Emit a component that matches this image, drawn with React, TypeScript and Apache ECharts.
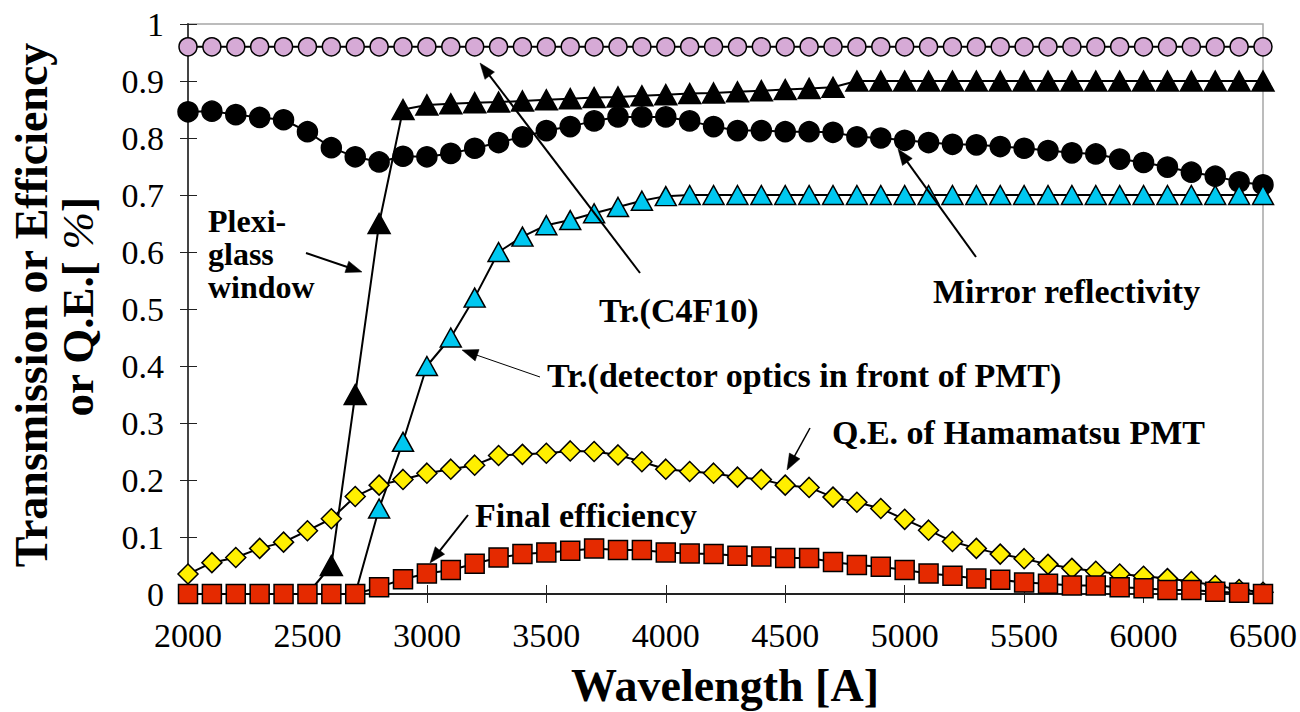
import React, { useEffect, useRef } from 'react';
import * as echarts from 'echarts';

const wavelengths = [
  2000, 2100, 2200, 2300, 2400, 2500, 2600, 2700, 2800, 2900,
  3000, 3100, 3200, 3300, 3400, 3500, 3600, 3700, 3800, 3900,
  4000, 4100, 4200, 4300, 4400, 4500, 4600, 4700, 4800, 4900,
  5000, 5100, 5200, 5300, 5400, 5500, 5600, 5700, 5800, 5900,
  6000, 6100, 6200, 6300, 6400, 6500,
];

const trC4F10 = [
  0.96, 0.96, 0.96, 0.96, 0.96, 0.96, 0.96, 0.96, 0.96, 0.96,
  0.96, 0.96, 0.96, 0.96, 0.96, 0.96, 0.96, 0.96, 0.96, 0.96,
  0.96, 0.96, 0.96, 0.96, 0.96, 0.96, 0.96, 0.96, 0.96, 0.96,
  0.96, 0.96, 0.96, 0.96, 0.96, 0.96, 0.96, 0.96, 0.96, 0.96,
  0.96, 0.96, 0.96, 0.96, 0.96, 0.96,
];

const plexiglass = [
  null, null, null, null, null, 0, 0.05, 0.35, 0.65, 0.85,
  0.858, 0.86, 0.862, 0.863, 0.865, 0.867, 0.869, 0.871, 0.872, 0.874,
  0.876, 0.878, 0.879, 0.881, 0.883, 0.885, 0.887, 0.889, 0.9, 0.9,
  0.9, 0.9, 0.9, 0.9, 0.9, 0.9, 0.9, 0.9, 0.9, 0.9,
  0.9, 0.9, 0.9, 0.9, 0.9, 0.9,
];

const mirror = [
  0.846, 0.847, 0.841, 0.836, 0.832, 0.811, 0.783, 0.767, 0.758, 0.768,
  0.767, 0.773, 0.782, 0.792, 0.802, 0.813, 0.82, 0.83, 0.837, 0.837,
  0.837, 0.83, 0.82, 0.813, 0.813, 0.811, 0.811, 0.81, 0.802, 0.8,
  0.796, 0.792, 0.789, 0.788, 0.785, 0.782, 0.778, 0.774, 0.772, 0.763,
  0.757, 0.749, 0.74, 0.733, 0.723, 0.718,
];

const detectorOptics = [
  null, null, null, null, null, null, null, 0, 0.15, 0.267,
  0.4, 0.45, 0.52, 0.6, 0.627, 0.647, 0.656, 0.668, 0.679, 0.69,
  0.698, 0.7, 0.7, 0.7, 0.7, 0.7, 0.7, 0.7, 0.7, 0.7,
  0.7, 0.7, 0.7, 0.7, 0.7, 0.7, 0.7, 0.7, 0.7, 0.7,
  0.7, 0.7, 0.7, 0.7, 0.7, 0.7,
];

const qeHamamatsu = [
  0.035, 0.055, 0.064, 0.08, 0.091, 0.111, 0.132, 0.171, 0.191, 0.201,
  0.212, 0.219, 0.226, 0.243, 0.245, 0.247, 0.251, 0.25, 0.244, 0.232,
  0.219, 0.215, 0.212, 0.205, 0.201, 0.191, 0.187, 0.17, 0.161, 0.15,
  0.131, 0.112, 0.092, 0.08, 0.07, 0.062, 0.052, 0.045, 0.04, 0.035,
  0.031, 0.027, 0.022, 0.015, 0.008, 0.003,
];

const finalEfficiency = [
  0, 0, 0, 0, 0, 0, 0, 0, 0.012, 0.026,
  0.036, 0.042, 0.053, 0.064, 0.07, 0.073, 0.076, 0.08, 0.077, 0.077,
  0.073, 0.071, 0.07, 0.067, 0.066, 0.063, 0.063, 0.056, 0.051, 0.048,
  0.042, 0.036, 0.032, 0.027, 0.025, 0.02, 0.018, 0.015, 0.015, 0.012,
  0.01, 0.007, 0.007, 0.004, 0.002, 0,
];

const FONT = 'Liberation Serif';

function buildData(vals: (number | null)[], hideFirst: boolean) {
  const out: any[] = [];
  vals.forEach((v, i) => {
    if (v === null) return;
    const item: any = { value: [wavelengths[i], v] };
    if (hideFirst && out.length === 0) item.symbol = 'none';
    out.push(item);
  });
  return out;
}

function series(name: string, vals: (number | null)[], symbol: string, size: any, color: string, hideFirst = false) {
  return {
    type: 'line',
    name,
    data: buildData(vals, hideFirst),
    symbol,
    symbolSize: size,
    showAllSymbol: true,
    xAxisIndex: 0,
    yAxisIndex: 0,
    lineStyle: { color: '#000', width: 2 },
    itemStyle: { color, borderColor: '#000', borderWidth: 1.5 },
    emphasis: { disabled: true },
    silent: true,
  };
}

function arrow(x1: number, y1: number, x2: number, y2: number, w: number, hl = 16, hw = 12) {
  const dx = x2 - x1;
  const dy = y2 - y1;
  const len = Math.sqrt(dx * dx + dy * dy);
  const ux = dx / len;
  const uy = dy / len;
  const bx = x2 - ux * hl;
  const by = y2 - uy * hl;
  const px = -uy * hw / 2;
  const py = ux * hw / 2;
  return [
    {
      type: 'line',
      z: 100,
      silent: true,
      shape: { x1, y1, x2: bx + ux * 2, y2: by + uy * 2 },
      style: { stroke: '#000', lineWidth: w },
    },
    {
      type: 'polygon',
      z: 100,
      silent: true,
      shape: { points: [[x2, y2], [bx + px, by + py], [bx - px, by - py]] },
      style: { fill: '#000', stroke: '#000', lineWidth: 0.5 },
    },
  ];
}

function label(text: string, x: number, y: number, size = 34, align = 'left', rotation = 0, extra: any = {}) {
  return {
    type: 'text',
    z: 100,
    silent: true,
    x,
    y,
    rotation,
    style: {
      text,
      fontFamily: FONT,
      fontSize: size,
      fontWeight: 'bold',
      fill: '#000',
      lineHeight: size,
      textAlign: align,
      textVerticalAlign: 'middle',
      align,
      verticalAlign: 'middle',
      ...extra,
    },
  };
}

export default function App() {
  const ref = useRef<HTMLDivElement>(null);
  useEffect(() => {
    const chart = echarts.init(ref.current!, null, { renderer: 'svg' });
    const axisCommonX = { type: 'value', min: 2000, max: 6500, interval: 500 };
    const axisCommonY = { type: 'value', min: 0, max: 1, interval: 0.1 };
    const option: any = {
      animation: false,
      backgroundColor: '#fff',
      textStyle: { fontFamily: FONT },
      grid: {
        left: 188,
        right: 35,
        top: 24,
        bottom: 118,
        show: true,
        borderColor: '#a6a6a6',
        borderWidth: 1.5,
        backgroundColor: 'transparent',
      },
      xAxis: [
        {
          ...axisCommonX,
          position: 'bottom',
          axisLine: { show: true, lineStyle: { color: '#222', width: 2 } },
          axisTick: { show: true, inside: false, length: 9, lineStyle: { color: '#222', width: 1 } },
          axisLabel: {
            fontSize: 34,
            fontFamily: FONT,
            color: '#000',
            margin: 24,
            formatter: (v: number) => String(v),
          },
          splitLine: { show: false },
        },
        {
          ...axisCommonX,
          position: 'bottom',
          axisLine: { show: false },
          axisTick: { show: true, inside: true, length: 9, lineStyle: { color: '#222', width: 1 } },
          axisLabel: { show: false },
          splitLine: { show: false },
        },
      ],
      yAxis: [
        {
          ...axisCommonY,
          position: 'left',
          axisLine: { show: true, lineStyle: { color: '#444', width: 2 } },
          axisTick: { show: true, inside: false, length: 8, lineStyle: { color: '#222', width: 1 } },
          axisLabel: { fontSize: 34, fontFamily: FONT, color: '#000', margin: 24 },
          splitLine: { show: false },
        },
        {
          ...axisCommonY,
          position: 'left',
          axisLine: { show: false },
          axisTick: { show: true, inside: true, length: 9, lineStyle: { color: '#222', width: 1 } },
          axisLabel: { show: false },
          splitLine: { show: false },
        },
      ],
      series: [
        series('Q.E. of Hamamatsu PMT', qeHamamatsu, 'diamond', 20, '#ffef00'),
        series('Tr.(C4F10)', trC4F10, 'circle', 18, '#d6aad6'),
        series('Mirror reflectivity', mirror, 'circle', 20, '#000'),
        series('Plexi-glass window', plexiglass, 'triangle', [22, 20], '#000', true),
        series('Tr.(detector optics in front of PMT)', detectorOptics, 'triangle', [21, 19], '#00c8f0', true),
        series('Final efficiency', finalEfficiency, 'rect', 19, '#e52a00'),
      ],
      graphic: [
        label('Transmission or Efficiency', 31, 305, 46, 'center', Math.PI / 2),
        label('or Q.E.[ {i|%}]', 78, 307, 45, 'center', Math.PI / 2, {
          rich: {
            i: { fontFamily: FONT, fontSize: 45, fontStyle: 'italic', fontWeight: 'normal', fill: '#000' },
          },
        }),
        label('Wavelength [A]', 725, 685, 46, 'center'),
        label('Plexi-', 208, 221, 32),
        label('glass', 208, 254, 32),
        label('window', 208, 287, 32),
        label('Tr.(C4F10)', 599, 310),
        label('Mirror reflectivity', 933, 291),
        label('Tr.(detector optics in front of PMT)', 547, 375),
        label('Q.E. of Hamamatsu PMT', 832, 432),
        label('Final efficiency', 475, 515),
        ...arrow(306, 253, 362, 272, 2),
        ...arrow(640, 273, 480, 63, 2),
        ...arrow(976, 257, 898, 149, 2),
        ...arrow(540, 377, 462, 350, 1),
        ...arrow(810, 428, 787, 470, 1.5),
        ...arrow(468, 515, 430, 563, 2),
      ],
    };
    chart.setOption(option);
    return () => chart.dispose();
  }, []);
  return (
    <div
      ref={ref}
      style={{ position: 'fixed', left: 0, top: 0, width: 1300, height: 712, background: '#fff' }}
    />
  );
}
